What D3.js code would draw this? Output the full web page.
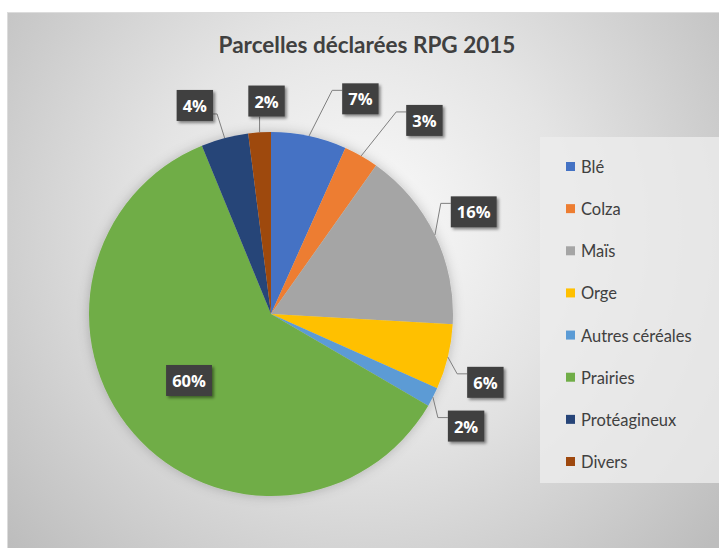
<!DOCTYPE html>
<html>
<head>
<meta charset="utf-8">
<script src="https://cdn.jsdelivr.net/npm/d3@7/dist/d3.min.js"></script>
<style>
  html, body { margin: 0; padding: 0; background: #ffffff; }
  svg { display: block; }
</style>
</head>
<body>
<svg id="chart" width="719" height="548"></svg>
<script>
// Data
var categories = ['Blé', 'Colza', 'Maïs', 'Orge', 'Autres céréales', 'Prairies', 'Protéagineux', 'Divers'];
var shares = [6.7, 3.1, 16.1, 5.8, 1.7, 60.4, 4.2, 2.0];
var colors = ['#4472C4', '#ED7D31', '#A5A5A5', '#FFC000', '#5B9BD5', '#70AD47', '#264478', '#9E480E'];
var title = 'Parcelles déclarées RPG 2015';

// Label layout nudges (degrees, px) to mimic the "best fit" placement
var labelAngleShift = [10.5, 8.7, -1, 4, 2.7, 2, -5.3, 2.4];
var labelRadiusShift = [6, 20, 0, -2, -2, 0, -5, -14];

function render() {
  'use strict';
  var svg = d3.select('#chart');
  var defs = svg.append('defs');

  var grad = defs.append('radialGradient')
    .attr('id', 'bg')
    .attr('gradientUnits', 'userSpaceOnUse')
    .attr('cx', 360).attr('cy', 230).attr('r', 470);
  grad.append('stop').attr('offset', '0%').attr('stop-color', '#fbfbfb');
  grad.append('stop').attr('offset', '45%').attr('stop-color', '#e4e4e4');
  grad.append('stop').attr('offset', '100%').attr('stop-color', '#bdbdbd');

  var shadow = defs.append('filter').attr('id', 'shadow')
    .attr('x', '-30%').attr('y', '-30%').attr('width', '160%').attr('height', '160%');
  shadow.append('feDropShadow')
    .attr('dx', 2).attr('dy', 2).attr('stdDeviation', 1.6)
    .attr('flood-color', '#000').attr('flood-opacity', 0.45);

  var pieShadow = defs.append('filter').attr('id', 'pieShadow')
    .attr('x', '-20%').attr('y', '-20%').attr('width', '140%').attr('height', '140%');
  pieShadow.append('feDropShadow')
    .attr('dx', 0).attr('dy', 0).attr('stdDeviation', 6)
    .attr('flood-color', '#000').attr('flood-opacity', 0.22);

  // Chart area
  svg.append('rect')
    .attr('x', 7).attr('y', 12).attr('width', 712).attr('height', 536)
    .attr('fill', 'url(#bg)');
  svg.append('line')
    .attr('x1', 7).attr('x2', 719).attr('y1', 12.5).attr('y2', 12.5)
    .attr('stroke', '#dcdcdc');
  svg.append('line')
    .attr('x1', 7.5).attr('x2', 7.5).attr('y1', 12).attr('y2', 548)
    .attr('stroke', '#dcdcdc');

  svg.append('text')
    .attr('x', 367).attr('y', 53)
    .attr('text-anchor', 'middle')
    .attr('font-family', 'Lato, sans-serif')
    .attr('font-weight', 'bold')
    .attr('font-size', 22.5)
    .attr('fill', '#404040')
    .text(title);

  // Pie
  var cx = 271, cy = 314, radius = 182;
  var g = svg.append('g').attr('transform', 'translate(' + cx + ',' + cy + ')');
  var pie = d3.pie().sort(null).value(function(d) { return d; });
  var arcs = pie(shares);
  var arc = d3.arc().innerRadius(0).outerRadius(radius);

  g.append('g').attr('filter', 'url(#pieShadow)')
    .selectAll('path')
    .data(arcs)
    .enter()
    .append('path')
      .attr('d', arc)
      .attr('fill', function(d, i) { return colors[i]; });

  var total = d3.sum(shares);
  var labels = svg.append('g');

  arcs.forEach(function(d, i) {
    var mid = (d.startAngle + d.endAngle) / 2;
    var inside = (d.value / total) > 0.3;
    var ang = mid + labelAngleShift[i] * Math.PI / 180;
    var dist = inside ? radius * 0.58 : radius + 45 + labelRadiusShift[i];
    var lx = cx + Math.sin(ang) * dist;
    var ly = cy - Math.cos(ang) * dist;
    var txt = Math.round(d.value / total * 100) + '%';

    var lg = labels.append('g');
    var t = lg.append('text')
      .attr('x', lx).attr('y', ly)
      .attr('text-anchor', 'middle')
      .attr('dominant-baseline', 'central')
      .attr('font-family', '"Open Sans", sans-serif')
      .attr('font-weight', 'bold')
      .attr('font-size', 16.5)
      .attr('fill', '#ffffff')
      .text(txt);
    var bb = t.node().getBBox();
    var w = bb.width + 12, h = 31;
    var box = { left: lx - w / 2, right: lx + w / 2, top: ly - h / 2, bottom: ly + h / 2 };

    if (!inside) {
      var px = cx + Math.sin(mid) * radius;
      var py = cy - Math.cos(mid) * radius;
      var pts;
      if (px < box.left - 4) {
        var ay = box.top + 7;
        pts = [[px, py], [box.left - 10, ay], [box.left, ay]];
      } else if (px > box.right + 4) {
        var by = box.bottom - 7;
        pts = [[px, py], [box.right + 4, by], [box.right, by]];
      } else {
        pts = [[px, py], [Math.min(Math.max(px, box.left + 4), box.right - 4), box.bottom]];
      }
      labels.insert('path', ':first-child')
        .attr('d', d3.line()(pts))
        .attr('fill', 'none')
        .attr('stroke', '#7f7f7f')
        .attr('stroke-width', 1);
    }

    lg.insert('rect', 'text')
      .attr('x', box.left).attr('y', box.top)
      .attr('width', w).attr('height', h)
      .attr('fill', '#404040')
      .attr('filter', 'url(#shadow)');
  });

  // Legend
  var legend = svg.append('g');
  legend.append('rect')
    .attr('x', 540).attr('y', 137).attr('width', 179).attr('height', 346)
    .attr('fill', '#ececec').attr('fill-opacity', 0.8);

  var rowY = d3.scalePoint().domain(categories).range([167, 462]);
  var rows = legend.selectAll('.row')
    .data(categories)
    .enter()
    .append('g')
      .attr('class', 'row')
      .attr('transform', function(d) { return 'translate(0,' + rowY(d) + ')'; });
  rows.append('rect')
    .attr('x', 566).attr('y', -5).attr('width', 9).attr('height', 9)
    .attr('fill', function(d, i) { return colors[i]; });
  rows.append('text')
    .attr('x', 581).attr('y', 0)
    .attr('dominant-baseline', 'central')
    .attr('font-family', 'Lato, sans-serif')
    .attr('font-size', 16.5)
    .attr('fill', '#404040')
    .text(function(d) { return d; });
}

render();
</script>
</body>
</html>
